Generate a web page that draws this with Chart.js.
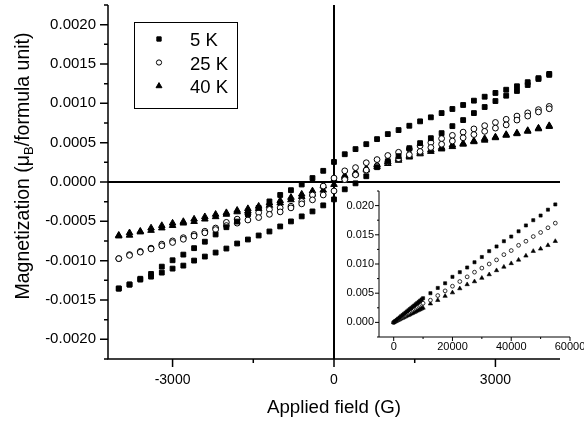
<!DOCTYPE html>
<html>
<head>
<meta charset="utf-8">
<script src="https://cdn.jsdelivr.net/npm/chart.js@4.4.1/dist/chart.umd.min.js"></script>
<style>
  html, body { margin: 0; padding: 0; background: #fff; overflow: hidden; }
  #wrap { position: relative; width: 584px; height: 428px; }
  #main { position: absolute; left: 0; top: 0; }
  #inset { position: absolute; left: 340px; top: 185px; }
</style>
</head>
<body>
<div id="wrap">
  <canvas id="main" width="584" height="428"></canvas>
  <canvas id="inset" width="250" height="175"></canvas>
</div>
<script>
// applied field (G), same steps for the down sweep and the up sweep
const field = [-4000, -3800, -3600, -3400, -3200, -3000, -2800, -2600, -2400, -2200,
  -2000, -1800, -1600, -1400, -1200, -1000, -800, -600, -400, -200,
  0,
  200, 400, 600, 800, 1000, 1200, 1400, 1600, 1800, 2000,
  2200, 2400, 2600, 2800, 3000, 3200, 3400, 3600, 3800, 4000];

// magnetization (muB / formula unit)
const m5Down = [-0.001353, -0.001302, -0.00123, -0.001169, -0.001076, -0.000995, -0.000923, -0.000841, -0.000759, -0.000667,
  -0.000575, -0.000503, -0.000411, -0.000329, -0.000247, -0.000165, -0.000104, -0.000032, 0.00005, 0.000142,
  0.000255,
  0.000353, 0.000418, 0.000481, 0.000545, 0.000609, 0.00066, 0.000715, 0.000771, 0.000822, 0.000876,
  0.000928, 0.000979, 0.001034, 0.001084, 0.001132, 0.001173, 0.001217, 0.001269, 0.00132, 0.001374];
const m5Up = [-0.001356, -0.001305, -0.001241, -0.001203, -0.001152, -0.001101, -0.001063, -0.000999, -0.000948, -0.000897,
  -0.000846, -0.000782, -0.000731, -0.00068, -0.000629, -0.000565, -0.000501, -0.000437, -0.000374, -0.000297,
  -0.000221,
  -0.000093, -0.000017, 0.000073, 0.000188, 0.000264, 0.000328, 0.00043, 0.000494, 0.000557, 0.000621,
  0.00071, 0.000787, 0.000876, 0.000953, 0.001029, 0.001097, 0.001157, 0.001233, 0.00131, 0.001362];
const m25Down = [-0.000974, -0.000923, -0.000882, -0.000841, -0.00079, -0.000749, -0.000708, -0.000667, -0.000626, -0.000585,
  -0.000513, -0.000472, -0.000411, -0.00039, -0.000349, -0.000329, -0.000308, -0.000247, -0.000165, -0.000052,
  0.00005,
  0.000142, 0.000183, 0.000245, 0.000285, 0.000337, 0.000378, 0.000419, 0.00046, 0.000501, 0.000552,
  0.000593, 0.000634, 0.000675, 0.000716, 0.000757, 0.000797, 0.000838, 0.000879, 0.00092, 0.000961];
const m25Up = [-0.000974, -0.000933, -0.000892, -0.000851, -0.00081, -0.000769, -0.000728, -0.000687, -0.000646, -0.000605,
  -0.000554, -0.000523, -0.000483, -0.000452, -0.000411, -0.00038, -0.000329, -0.000278, -0.000227, -0.000165,
  -0.000114,
  0.00003, 0.000091, 0.000152, 0.000204, 0.000255, 0.000296, 0.000347, 0.000388, 0.000439, 0.00048,
  0.000521, 0.000562, 0.000603, 0.000644, 0.000685, 0.000726, 0.000787, 0.000838, 0.00089, 0.000931];
const m40Down = [-0.000677, -0.000646, -0.000626, -0.000585, -0.000554, -0.000523, -0.000503, -0.000472, -0.000442, -0.000411,
  -0.00039, -0.00036, -0.000339, -0.000308, -0.000267, -0.000237, -0.000196, -0.000155, -0.000114, -0.000052,
  0.00003,
  0.000081, 0.000122, 0.000173, 0.000214, 0.000255, 0.000296, 0.000337, 0.000378, 0.000408, 0.000439,
  0.00047, 0.00049, 0.000521, 0.000552, 0.000572, 0.000603, 0.000623, 0.000654, 0.000685, 0.000716];
const m40Up = [-0.000687, -0.000677, -0.000636, -0.000616, -0.000585, -0.000554, -0.000523, -0.000503, -0.000472, -0.000442,
  -0.000411, -0.00038, -0.00037, -0.000339, -0.000298, -0.000267, -0.000227, -0.000186, -0.000155, -0.000104,
  -0.000032,
  0.00006, 0.000101, 0.000152, 0.000193, 0.000234, 0.000275, 0.000316, 0.000357, 0.000388, 0.000419,
  0.000449, 0.00048, 0.000511, 0.000531, 0.000562, 0.000593, 0.000613, 0.000644, 0.000675, 0.000705];

// inset: field up to 55 kOe
const fieldHigh = [0, 500, 1000, 1500, 2000, 2500, 3000, 3500, 4000, 4500, 5000,
  5500, 6000, 6500, 7000, 7500, 8000, 8500, 9000, 9500, 10000,
  12500, 15000, 17500, 20000, 22500, 25000, 27500, 30000, 32500, 35000,
  37500, 40000, 42500, 45000, 47500, 50000, 52500, 55000];
const m5High = [0, 0.00021, 0.00042, 0.00063, 0.00084, 0.00105, 0.00125, 0.00146, 0.00166, 0.00187, 0.00207,
  0.00228, 0.00248, 0.00269, 0.00289, 0.0031, 0.0033, 0.00351, 0.00372, 0.00393, 0.00414,
  0.005, 0.0059, 0.0067, 0.0078, 0.0086, 0.0094, 0.0103, 0.0112, 0.0122, 0.013,
  0.0139, 0.0147, 0.0156, 0.0166, 0.0175, 0.0183, 0.0193, 0.0202];
const m25High = [0, 0.00016, 0.00033, 0.00049, 0.00066, 0.00082, 0.00098, 0.00115, 0.00131, 0.00148, 0.00164,
  0.0018, 0.00197, 0.00213, 0.0023, 0.00246, 0.00262, 0.00279, 0.00295, 0.00312, 0.00328,
  0.0038, 0.0046, 0.0054, 0.0062, 0.007, 0.0078, 0.0086, 0.0093, 0.01, 0.0107,
  0.0116, 0.0123, 0.0132, 0.0139, 0.0147, 0.0154, 0.0162, 0.017];
const m40High = [0, 0.00012, 0.00025, 0.00037, 0.0005, 0.00062, 0.00074, 0.00087, 0.00099, 0.00112, 0.00124,
  0.00136, 0.00149, 0.00161, 0.00174, 0.00186, 0.00198, 0.00211, 0.00223, 0.00236, 0.00248,
  0.0032, 0.0038, 0.0045, 0.0051, 0.0058, 0.0065, 0.007, 0.0076, 0.0082, 0.0089,
  0.0095, 0.0101, 0.0107, 0.0114, 0.0122, 0.0126, 0.0132, 0.0139];

const seriesLabels = ['5 K', '25 K', '40 K'];

// ticks (empty label = minor tick)
const xTicks = [-3000, -1500, 0, 1500, 3000];
const xLabels = ['-3000', '', '0', '', '3000'];
const yTicks = [-0.00225, -0.002, -0.00175, -0.0015, -0.00125, -0.001, -0.00075, -0.0005, -0.00025, 0,
  0.00025, 0.0005, 0.00075, 0.001, 0.00125, 0.0015, 0.00175, 0.002, 0.00225];
const yLabels = ['', '-0.0020', '', '-0.0015', '', '-0.0010', '', '-0.0005', '', '0.0000',
  '', '0.0005', '', '0.0010', '', '0.0015', '', '0.0020', ''];
const xTicksIn = [0, 10000, 20000, 30000, 40000, 50000, 60000];
const xLabelsIn = ['0', '', '20000', '', '40000', '', '60000'];
const yTicksIn = [-0.0025, 0, 0.0025, 0.005, 0.0075, 0.01, 0.0125, 0.015, 0.0175, 0.02, 0.0225];
const yLabelsIn = ['', '0.000', '', '0.005', '', '0.010', '', '0.015', '', '0.020', ''];

const FONT = "'Liberation Sans', Arial, sans-serif";
Chart.defaults.font.family = FONT;
Chart.defaults.color = '#000';

function pts(xs, ys) {
  return xs.map((x, i) => ({ x: x, y: ys[i] }));
}

// axis lines, outward tick marks and zero lines
const axisMarks = {
  id: 'axisMarks',
  beforeDatasetsDraw(chart, args, o) {
    const { ctx, chartArea: a, scales: { x, y } } = chart;
    ctx.save();
    ctx.strokeStyle = '#000';
    ctx.lineWidth = o.width;
    ctx.beginPath();
    ctx.moveTo(a.left, a.top);
    ctx.lineTo(a.left, a.bottom);
    ctx.lineTo(a.right, a.bottom);
    ctx.stroke();
    ctx.beginPath();
    x.ticks.forEach(t => {
      const px = x.getPixelForValue(t.value);
      const len = t.label ? o.major : o.minor;
      ctx.moveTo(px, a.bottom);
      ctx.lineTo(px, a.bottom + len);
    });
    y.ticks.forEach(t => {
      const py = y.getPixelForValue(t.value);
      const len = t.label ? o.major : o.minor;
      ctx.moveTo(a.left - len, py);
      ctx.lineTo(a.left, py);
    });
    ctx.stroke();
    if (o.zeroLines) {
      ctx.lineWidth = o.zeroWidth;
      const x0 = x.getPixelForValue(0), y0 = y.getPixelForValue(0);
      ctx.beginPath();
      ctx.moveTo(a.left, y0);
      ctx.lineTo(a.right, y0);
      ctx.moveTo(x0, a.top);
      ctx.lineTo(x0, a.bottom);
      ctx.stroke();
    }
    ctx.restore();
  }
};

const boxLegend = {
  id: 'boxLegend',
  afterDraw(chart, args, o) {
    const { ctx, chartArea: a } = chart;
    const bx = a.left + o.left, by = a.top + o.top;
    ctx.save();
    ctx.strokeStyle = '#000';
    ctx.lineWidth = 1;
    ctx.strokeRect(bx + 0.5, by + 0.5, o.width, o.height);
    ctx.font = o.size + 'px ' + FONT;
    ctx.textBaseline = 'middle';
    chart.data.datasets.forEach((ds, i) => {
      const cy = by + o.firstRow + i * o.rowGap;
      ctx.fillStyle = ds.backgroundColor;
      ctx.strokeStyle = ds.borderColor;
      ctx.lineWidth = ds.borderWidth;
      Chart.helpers.drawPoint(ctx, { pointStyle: ds.pointStyle, radius: ds.pointRadius * o.markerScale, rotation: 0, borderWidth: ds.borderWidth }, bx + o.markerX, cy);
      ctx.fillStyle = '#000';
      ctx.fillText(ds.label, bx + o.textX, cy + o.textDy);
    });
    ctx.restore();
  }
};

// y title with the B subscript
const yTitle = {
  id: 'yTitle',
  afterDraw(chart, args, o) {
    const { ctx } = chart;
    const big = o.size + 'px ' + FONT, small = Math.round(o.size * 0.68) + 'px ' + FONT;
    const parts = [['Magnetization (\u03BC', big, 0], ['B', small, o.size * 0.3], ['/formula unit)', big, 0]];
    ctx.save();
    ctx.translate(o.x, o.y);
    ctx.rotate(-Math.PI / 2);
    ctx.fillStyle = '#000';
    ctx.textBaseline = 'middle';
    let total = 0;
    parts.forEach(p => { ctx.font = p[1]; total += ctx.measureText(p[0]).width; });
    let cx = -total / 2;
    parts.forEach(p => {
      ctx.font = p[1];
      ctx.fillText(p[0], cx, p[2]);
      cx += ctx.measureText(p[0]).width;
    });
    ctx.restore();
  }
};

const markers = [
  { pointStyle: 'rect', pointRadius: 3.4, backgroundColor: '#000', borderColor: '#000', borderWidth: 1 },
  { pointStyle: 'circle', pointRadius: 2.9, backgroundColor: '#fff', borderColor: '#000', borderWidth: 1 },
  { pointStyle: 'triangle', pointRadius: 3.8, backgroundColor: '#000', borderColor: '#000', borderWidth: 1 }
];

new Chart(document.getElementById('main'), {
  type: 'scatter',
  data: {
    datasets: [
      Object.assign({ label: seriesLabels[0], data: pts(field, m5Down).concat(pts(field, m5Up)) }, markers[0]),
      Object.assign({ label: seriesLabels[1], data: pts(field, m25Down).concat(pts(field, m25Up)) }, markers[1]),
      Object.assign({ label: seriesLabels[2], data: pts(field, m40Down).concat(pts(field, m40Up)) }, markers[2])
    ]
  },
  options: {
    responsive: false,
    devicePixelRatio: 1,
    animation: false,
    events: [],
    layout: { padding: { left: 0, top: 5, right: 24, bottom: 0 } },
    scales: {
      x: {
        type: 'linear',
        min: -4200,
        max: 4200,
        grid: { display: false, drawTicks: false },
        border: { display: false },
        afterBuildTicks: s => { s.ticks = xTicks.map(v => ({ value: v })); },
        afterFit: s => { s.height = 69; s.paddingLeft = 0; s.paddingRight = 0; },
        ticks: {
          autoSkip: false,
          maxRotation: 0,
          padding: 13,
          font: { size: 14 },
          callback: (v, i) => xLabels[i]
        },
        title: {
          display: true,
          text: 'Applied field (G)',
          font: { size: 18.7 },
          padding: { top: 0, bottom: 9 }
        }
      },
      y: {
        type: 'linear',
        min: -0.00225,
        max: 0.00225,
        grid: { display: false, drawTicks: false },
        border: { display: false },
        afterBuildTicks: s => { s.ticks = yTicks.map(v => ({ value: v })); },
        afterFit: s => { s.width = 108; s.paddingTop = 0; s.paddingBottom = 0; },
        ticks: {
          autoSkip: false,
          padding: 12,
          font: { size: 15 },
          callback: (v, i) => yLabels[i]
        }
      }
    },
    plugins: {
      legend: { display: false },
      tooltip: { enabled: false },
      axisMarks: { width: 1.5, major: 8, minor: 4, zeroLines: true, zeroWidth: 2 },
      boxLegend: { left: 26, top: 17, width: 103, height: 86, firstRow: 17, rowGap: 23.5, markerX: 25, textX: 56, textDy: 2, size: 18.5, markerScale: 0.9 },
      yTitle: { x: 24, y: 166, size: 19.5 }
    }
  },
  plugins: [axisMarks, boxLegend, yTitle]
});

const insetMarkers = [
  { pointStyle: 'rect', pointRadius: 2.2, backgroundColor: '#000', borderColor: '#000', borderWidth: 0.6 },
  { pointStyle: 'circle', pointRadius: 1.9, backgroundColor: '#fff', borderColor: '#000', borderWidth: 0.8 },
  { pointStyle: 'triangle', pointRadius: 2.5, backgroundColor: '#000', borderColor: '#000', borderWidth: 0.6 }
];

new Chart(document.getElementById('inset'), {
  type: 'scatter',
  data: {
    datasets: [
      Object.assign({ label: seriesLabels[0], data: pts(fieldHigh, m5High) }, insetMarkers[0]),
      Object.assign({ label: seriesLabels[1], data: pts(fieldHigh, m25High) }, insetMarkers[1]),
      Object.assign({ label: seriesLabels[2], data: pts(fieldHigh, m40High) }, insetMarkers[2])
    ]
  },
  options: {
    responsive: false,
    devicePixelRatio: 1,
    animation: false,
    events: [],
    layout: { padding: { left: 0, top: 6, right: 20, bottom: 0 } },
    scales: {
      x: {
        type: 'linear',
        min: -5000,
        max: 60000,
        grid: { display: false, drawTicks: false },
        border: { display: false },
        afterBuildTicks: s => { s.ticks = xTicksIn.map(v => ({ value: v })); },
        afterFit: s => { s.height = 23; s.paddingLeft = 0; s.paddingRight = 0; },
        ticks: {
          autoSkip: false,
          maxRotation: 0,
          padding: 3,
          font: { size: 11 },
          callback: (v, i) => xLabelsIn[i]
        }
      },
      y: {
        type: 'linear',
        min: -0.0025,
        max: 0.0225,
        grid: { display: false, drawTicks: false },
        border: { display: false },
        afterBuildTicks: s => { s.ticks = yTicksIn.map(v => ({ value: v })); },
        afterFit: s => { s.width = 39; s.paddingTop = 0; s.paddingBottom = 0; },
        ticks: {
          autoSkip: false,
          padding: 5,
          font: { size: 11 },
          callback: (v, i) => yLabelsIn[i]
        }
      }
    },
    plugins: {
      legend: { display: false },
      tooltip: { enabled: false },
      axisMarks: { width: 1, major: 4, minor: 2, zeroLines: false }
    }
  },
  plugins: [axisMarks]
});
</script>
</body>
</html>
